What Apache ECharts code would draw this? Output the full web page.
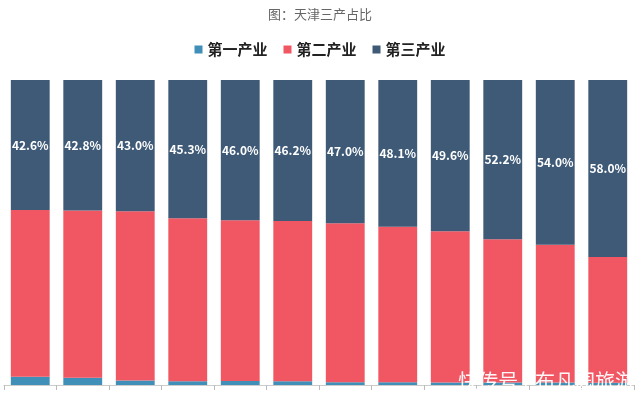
<!DOCTYPE html>
<html>
<head>
<meta charset="utf-8">
<script src="https://cdn.jsdelivr.net/npm/echarts@6/dist/echarts.min.js"></script>
<style>html,body{margin:0;padding:0;background:#fff}#c{width:640px;height:395px}</style>
</head>
<body>
<div id="c"></div>
<script>
var categories = ['2006','2007','2008','2009','2010','2011','2012','2013','2014','2015','2016','2017'];
var primary = [2.7, 2.4, 1.5, 1.2, 1.3, 1.2, 0.9, 0.9, 0.8, 0.8, 0.8, 0.7];
var tertiary = [42.6, 42.8, 43.0, 45.3, 46.0, 46.2, 47.0, 48.1, 49.6, 52.2, 54.0, 58.0];
var secondary = tertiary.map(function(t, i){ return +(100 - t - primary[i]).toFixed(1); });

var font = '"Noto Sans CJK SC", sans-serif';
var chart = echarts.init(document.getElementById('c'));
chart.setOption({
  animation: false,
  title: {
    text: '图：天津三产占比', left: 'center', top: 3,
    textStyle: {fontFamily: font, fontSize: 13, fontWeight: 'normal', color: '#666'}
  },
  legend: {
    top: 37, left: 'center', itemWidth: 8, itemHeight: 8, itemGap: 16, icon: 'rect',
    textStyle: {fontFamily: font, fontSize: 15, fontWeight: 'bold', color: '#222'},
    data: ['第一产业','第二产业','第三产业']
  },
  grid: {left: 4, right: 6, top: 80, bottom: 10, containLabel: false},
  xAxis: {
    type: 'category', data: categories,
    axisLine: {lineStyle: {color: '#ccc'}},
    axisTick: {show: true, lineStyle: {color: '#bbb'}},
    axisLabel: {show: false}
  },
  yAxis: {type: 'value', min: 0, max: 100, show: false, splitLine: {show: false}},
  series: [
    {name: '第一产业', type: 'bar', stack: 's', data: primary, barCategoryGap: '26%',
     itemStyle: {color: '#3f8fb8'}},
    {name: '第二产业', type: 'bar', stack: 's', data: secondary,
     itemStyle: {color: '#f05763'}},
    {name: '第三产业', type: 'bar', stack: 's', data: tertiary,
     itemStyle: {color: '#3e5a77'},
     label: {show: true, position: 'inside', color: '#fff', fontFamily: font, fontSize: 12, fontWeight: 'bold',
       formatter: function(p){ return p.value.toFixed(1) + '%'; }}}
  ],
  graphic: [{
    type: 'text', right: 5, bottom: 4, z: 100, zlevel: 1,
    style: {text: '快传号 / 布凡园旅游', fill: 'rgba(255,255,255,0.95)', fontSize: 20, fontFamily: font}
  }]
});
</script>
</body>
</html>
